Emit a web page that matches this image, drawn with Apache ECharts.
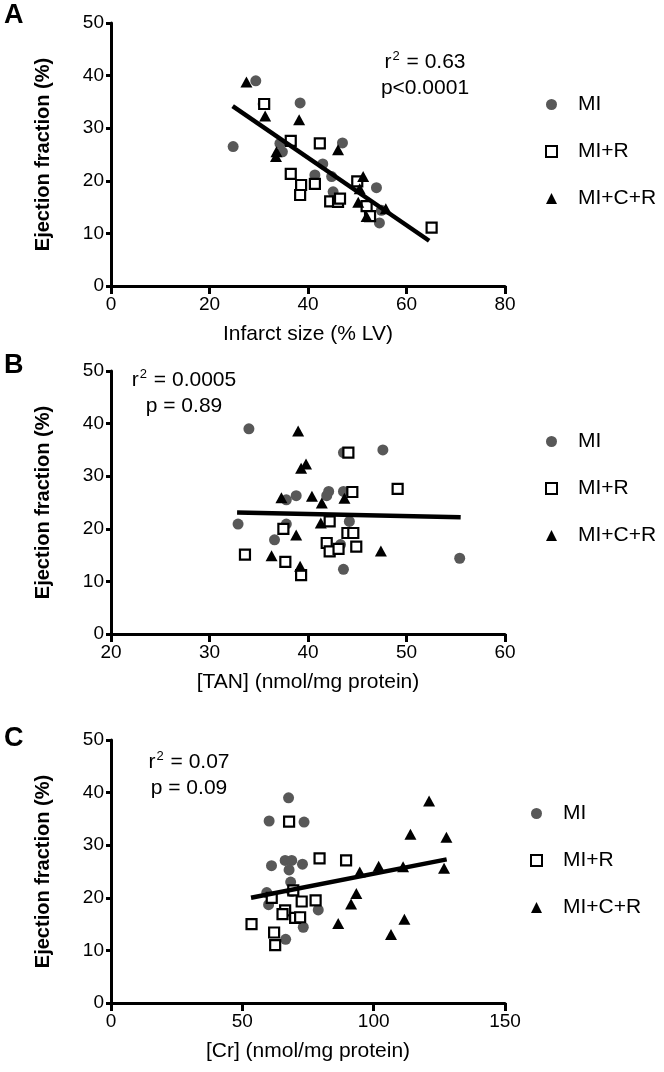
<!doctype html>
<html lang="en">
<head>
	<meta charset="utf-8" />
	<title>Ejection fraction scatter panels</title>
	<script src="https://cdn.jsdelivr.net/npm/echarts@6/dist/echarts.min.js"></script>
	<style>
		html, body { margin: 0; padding: 0; background: #fff; }
		#main { width: 664px; height: 1072px; }
	</style>
</head>
<body>
	<div id="main"></div>
	<script>
		// panel A : infarct size vs EF
		var aMI = [[29.4,39.0],[24.8,26.5],[30.9,34.6],[38.4,34.8],[34.3,27.1],[34.8,25.5],[47.0,27.2],
			[43.0,23.2],[41.4,21.1],[44.8,20.8],[45.1,17.9],[53.9,18.7],[54.9,14.4],[54.5,12.0]];
		var aMIR = [[31.1,34.6],[36.5,27.6],[42.4,27.1],[36.5,21.3],[38.6,19.2],[38.4,17.3],[41.4,19.4],
			[44.5,16.1],[46.1,16.0],[46.5,16.6],[50.0,19.9],[51.9,15.2],[52.6,13.3],[65.1,11.1]];
		var aMICR = [[27.5,38.8],[31.3,32.3],[38.2,31.6],[33.6,25.5],[33.5,24.6],[46.1,25.9],[51.2,20.8],
			[50.5,18.5],[50.2,15.9],[51.9,13.2],[55.8,14.7]];
		var aFit = [[24.7,34.2],[64.6,8.6]];

		// panel B : [TAN] vs EF
		var bMI = [[34.0,39.0],[32.9,20.9],[36.6,17.9],[37.8,25.5],[38.8,26.3],[37.8,20.9],[42.1,27.1],
			[41.9,26.3],[43.6,27.1],[43.6,34.5],[47.6,35.0],[44.2,21.4],[43.3,17.0],[43.6,12.3],[55.4,14.4]];
		var bMIR = [[33.6,15.1],[37.5,20.0],[37.7,13.7],[39.3,11.2],[42.2,21.4],[41.9,17.3],[42.2,15.7],
			[43.1,16.2],[44.1,34.5],[44.5,27.0],[44.0,19.2],[44.6,19.2],[44.9,16.6],[49.1,27.6]];
		var bMICR = [[39.0,38.6],[39.3,31.5],[39.8,32.3],[37.3,25.9],[40.4,26.2],[41.4,24.9],[41.3,21.1],
			[43.7,25.8],[38.8,18.8],[36.3,14.9],[39.2,12.9],[47.4,15.8]];
		var bFit = [[32.8,23.1],[55.5,22.2]];

		// panel C : [Cr] vs EF
		var cMI = [[67.6,39.0],[60.2,34.6],[73.5,34.4],[61.1,26.1],[66.3,27.1],[68.8,27.1],[67.8,25.3],
			[72.9,26.4],[68.4,23.0],[59.3,21.0],[68.8,21.2],[60.0,18.7],[78.9,17.7],[73.2,14.4],[66.5,12.1]];
		var cMIR = [[67.8,34.5],[79.4,27.5],[89.5,27.1],[61.2,20.0],[69.4,21.4],[72.6,19.3],[77.9,19.5],
			[66.3,17.6],[65.3,16.9],[70.1,16.2],[72.0,16.3],[53.5,15.0],[62.1,13.4],[62.5,11.0]];
		var cMICR = [[121.1,38.4],[114.0,32.1],[127.7,31.5],[126.8,25.6],[111.2,25.9],[101.9,26.0],
			[94.7,24.9],[93.4,20.8],[91.4,18.8],[86.5,15.1],[111.7,15.9],[106.6,13.0]];
		var cFit = [[53.3,20.0],[127.8,27.3]];

		var groups = ['MI', 'MI+R', 'MI+C+R'];
		var xNames = ['Infarct size (% LV)', '[TAN] (nmol/mg protein)', '[Cr] (nmol/mg protein)'];
		var xRanges = [[0, 80, 20], [20, 60, 10], [0, 150, 50]];
		var yName = 'Ejection fraction (%)';
		var panelLetters = ['A', 'B', 'C'];
		var rSquared = ['0.63', '0.0005', '0.07'];
		var pValues = ['p<0.0001', 'p = 0.89', 'p = 0.09'];

		var FONT = "'Liberation Sans', Arial, sans-serif";
		var gridTops = [23, 371, 740];
		var gridH = 263;

		var chart = echarts.init(document.getElementById('main'));

		var grids = [], xAxes = [], yAxes = [], series = [], legends = [], graphics = [];
		var panelData = [[aMI, aMIR, aMICR, aFit], [bMI, bMIR, bMICR, bFit], [cMI, cMIR, cMICR, cFit]];
		var legendPos = [[540, 89], [540, 426], [525, 798]];
		var statPos = [[425, 62], [184, 380], [189, 762]];
		var letterY = [15, 365, 738];

		for (var i = 0; i < 3; i++) {
			grids.push({ left: 111, width: 394, top: gridTops[i], height: gridH });
			xAxes.push({
				type: 'value', gridIndex: i,
				min: xRanges[i][0], max: xRanges[i][1], interval: xRanges[i][2],
				axisLine: { onZero: false, lineStyle: { color: '#000', width: 3 } },
				axisTick: { length: 8, lineStyle: { color: '#000', width: 3 } },
				axisLabel: { fontSize: 19, color: '#000', margin: 9, fontFamily: FONT },
				splitLine: { show: false },
				name: xNames[i], nameLocation: 'middle', nameGap: 38,
				nameTextStyle: { fontSize: 21, color: '#000', fontFamily: FONT }
			});
			yAxes.push({
				type: 'value', gridIndex: i,
				min: 0, max: 50, interval: 10,
				axisLine: { onZero: false, lineStyle: { color: '#000', width: 3 } },
				axisTick: { length: 5, lineStyle: { color: '#000', width: 3 } },
				axisLabel: { fontSize: 19, color: '#000', margin: 7, fontFamily: FONT },
				splitLine: { show: false },
				name: yName, nameLocation: 'middle', nameGap: 58,
				nameTextStyle: { fontSize: 20, fontWeight: 'bold', color: '#000', fontFamily: FONT }
			});
			var d = panelData[i];
			series.push({
				name: 'MI', type: 'scatter', xAxisIndex: i, yAxisIndex: i, data: d[0],
				symbol: 'circle', symbolSize: 11,
				itemStyle: { color: '#585858', opacity: 1 }
			});
			series.push({
				name: 'MI+R', type: 'scatter', xAxisIndex: i, yAxisIndex: i, data: d[1],
				symbol: 'rect', symbolSize: 10,
				itemStyle: { color: '#fff', borderColor: '#000', borderWidth: 2.2, opacity: 1 }
			});
			series.push({
				name: 'MI+C+R', type: 'scatter', xAxisIndex: i, yAxisIndex: i, data: d[2],
				symbol: 'triangle', symbolSize: [12, 11],
				itemStyle: { color: '#000', opacity: 1 }
			});
			series.push({
				name: 'fit' + i, type: 'line', xAxisIndex: i, yAxisIndex: i, data: d[3],
				symbol: 'none', z: 5,
				lineStyle: { color: '#000', width: 4.5 }
			});
			legends.push({
				data: groups, orient: 'vertical',
				left: legendPos[i][0], top: legendPos[i][1],
				itemWidth: 11, itemHeight: 11, itemGap: 26,
				selectedMode: false,
				textStyle: { fontSize: 21, color: '#000', fontFamily: FONT, padding: [0, 0, 0, 16] }
			});
			graphics.push({
				type: 'text', left: 4, top: letterY[i] - 13,
				style: { text: panelLetters[i], fontSize: 27, fontWeight: 'bold', fill: '#000', fontFamily: FONT }
			});
			graphics.push({
				type: 'text', x: statPos[i][0], y: statPos[i][1],
				style: {
					text: '{t|r}{s|2}{t| = ' + rSquared[i] + '}',
					align: 'center', verticalAlign: 'middle',
					rich: {
						t: { fontSize: 21, fill: '#000', fontFamily: FONT, lineHeight: 24 },
						s: { fontSize: 13, fill: '#000', fontFamily: FONT, verticalAlign: 'top', lineHeight: 24, padding: [0, 1, 0, 1] }
					}
				}
			});
			graphics.push({
				type: 'text', x: statPos[i][0], y: statPos[i][1] + 26,
				style: { text: pValues[i], fontSize: 21, fill: '#000', fontFamily: FONT, align: 'center', verticalAlign: 'middle' }
			});
		}

		chart.setOption({
			animation: false,
			backgroundColor: '#fff',
			grid: grids,
			xAxis: xAxes,
			yAxis: yAxes,
			legend: legends,
			series: series,
			graphic: graphics
		});
	</script>
</body>
</html>
